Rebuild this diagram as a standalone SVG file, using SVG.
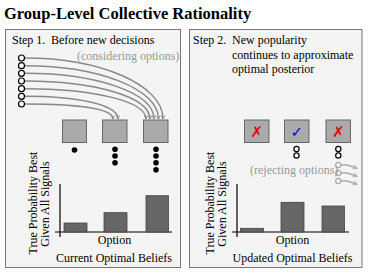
<svg xmlns="http://www.w3.org/2000/svg" width="374" height="280" viewBox="0 0 374 280" font-family="'Liberation Serif', 'Times New Roman', serif">
<style>
text{font-family:'Liberation Serif','Times New Roman',serif;font-size:12px;fill:#000}
.title{font-size:16.5px;font-weight:bold}
.gray{fill:#999}
.panel{fill:#f4f4f4;stroke:#777;stroke-width:1}
.box{fill:#aaa;stroke:#666;stroke-width:1}
.bar{fill:#666;stroke:#444;stroke-width:0.8}
.axis{stroke:#000;stroke-width:1.2;fill:none}
.sig{fill:#fff;stroke:#000;stroke-width:1.2}
.gsig{fill:#f4f4f4;stroke:#aaa;stroke-width:1.2}
.dot{fill:#000}
.curve{fill:none;stroke:#888;stroke-width:1.4;marker-end:url(#ah)}
.rej{fill:none;stroke:#aaa;stroke-width:1.4;marker-end:url(#ah2)}
.mark{font-family:'DejaVu Sans',sans-serif;font-size:15px;text-anchor:middle}
.mid{text-anchor:middle}
</style>
<defs>
<marker id="ah" viewBox="0 0 10 10" refX="9" refY="5" markerWidth="4.5" markerHeight="4.5" orient="auto" markerUnits="userSpaceOnUse">
<polyline points="1,1 9,5 1,9" fill="none" stroke="#888" stroke-width="2"/>
</marker>
<marker id="ah2" viewBox="0 0 10 10" refX="9" refY="5" markerWidth="5" markerHeight="5" orient="auto" markerUnits="userSpaceOnUse">
<polyline points="1,1 9,5 1,9" fill="none" stroke="#aaa" stroke-width="2"/>
</marker>
</defs>
<rect width="374" height="280" fill="#fff"/>
<text class="title" x="4" y="19">Group-Level Collective Rationality</text>

<g id="panel1">
<rect class="panel" x="5.5" y="29.5" width="175" height="238"/>
<text x="12" y="44">Step 1.</text>
<text x="51" y="44">Before new decisions</text>
<text class="gray" x="77" y="60">(considering options)</text>
</g>

<g id="connectors">
<path class="curve" d="M24.5,58 C101,58 163,85 163,119"/>
<path class="curve" d="M24.5,65.7 C99,65.7 158.5,89 158.5,119"/>
<path class="curve" d="M24.5,73.3 C97,73.3 154,93 154,119"/>
<path class="curve" d="M24.5,81 C95,81 150,97 150,119"/>
<path class="curve" d="M24.5,88.7 C93,88.7 146,101 146,119"/>
<path class="curve" d="M24.5,96.3 C75,96.3 118,104 118,119"/>
<path class="curve" d="M24.5,104 C73,104 113,108 113,119"/>
</g>

<g id="signals">
<circle class="sig" cx="21.5" cy="58" r="3"/>
<circle class="sig" cx="21.5" cy="65.7" r="3"/>
<circle class="sig" cx="21.5" cy="73.3" r="3"/>
<circle class="sig" cx="21.5" cy="81" r="3"/>
<circle class="sig" cx="21.5" cy="88.7" r="3"/>
<circle class="sig" cx="21.5" cy="96.3" r="3"/>
<circle class="sig" cx="21.5" cy="104" r="3"/>
</g>

<g id="opt1a"><rect class="box" x="62.5" y="120" width="24" height="22.5"/><circle class="dot" cx="74.5" cy="150" r="2.8"/></g>
<g id="opt1b"><rect class="box" x="102.5" y="120" width="24.5" height="22.5"/>
<circle class="dot" cx="115" cy="149.3" r="2.8"/><circle class="dot" cx="115" cy="156" r="2.8"/><circle class="dot" cx="115" cy="162.7" r="2.8"/></g>
<g id="opt1c"><rect class="box" x="143.5" y="120" width="24.5" height="22.5"/>
<circle class="dot" cx="156" cy="149.3" r="2.8"/><circle class="dot" cx="156" cy="156" r="2.8"/><circle class="dot" cx="156" cy="162.7" r="2.8"/><circle class="dot" cx="156" cy="169.8" r="2.8"/></g>

<g id="chart1">
<path class="axis" d="M60,184 V237 M55,232 H172"/>
<rect class="bar" x="64" y="223" width="23" height="9"/>
<rect class="bar" x="104" y="212.7" width="23" height="19.3"/>
<rect class="bar" x="146" y="195.7" width="22.5" height="36.3"/>
<text class="mid" transform="translate(36.5,203) rotate(-90)">True Probability Best</text>
<text class="mid" transform="translate(48.5,204) rotate(-90)">Given  All Signals</text>
<text class="mid" x="114.5" y="243.5">Option</text>
<text class="mid" x="114" y="261.5">Current Optimal Beliefs</text>
</g>

<g id="panel2">
<rect class="panel" x="189.5" y="29.5" width="172.5" height="238"/>
<text x="193" y="44">Step 2.</text>
<text x="232" y="44">New popularity</text>
<text x="232" y="58.5">continues to approximate</text>
<text x="232" y="73">optimal posterior</text>
</g>

<g id="opt2a"><rect class="box" x="244.5" y="120" width="24.5" height="22.5"/><text class="mark" x="256.8" y="137" style="fill:#e00000">✗</text></g>
<g id="opt2b"><rect class="box" x="284.5" y="120" width="24.5" height="22.5"/><text class="mark" x="296.8" y="137" style="fill:#0000e0">✓</text>
<circle class="sig" cx="296.5" cy="149" r="2.6"/><circle class="sig" cx="296.5" cy="155.5" r="2.6"/></g>
<g id="opt2c"><rect class="box" x="326" y="120" width="24.5" height="22.5"/><text class="mark" x="338.3" y="137" style="fill:#e00000">✗</text>
<circle class="sig" cx="338.3" cy="149" r="2.6"/><circle class="sig" cx="338.3" cy="155.5" r="2.6"/></g>

<g id="rejecting">
<path class="rej" d="M341,165 C347,164 351,166 357,168.5"/>
<path class="rej" d="M341,173 C347,172 351,174 357,176.5"/>
<path class="rej" d="M341,181 C347,180 351,182 357,184.5"/>
<circle class="gsig" cx="338.3" cy="165" r="2.6"/>
<circle class="gsig" cx="338.3" cy="173" r="2.6"/>
<circle class="gsig" cx="338.3" cy="181" r="2.6"/>
<text class="gray" x="250" y="174">(rejecting options)</text>
</g>

<g id="chart2">
<path class="axis" d="M237,184 V237 M232,232 H349"/>
<rect class="bar" x="240.5" y="228.3" width="23" height="3.7"/>
<rect class="bar" x="281" y="202.3" width="23" height="29.7"/>
<rect class="bar" x="322" y="206" width="22.5" height="26"/>
<text class="mid" transform="translate(213.5,203) rotate(-90)">True Probability Best</text>
<text class="mid" transform="translate(225.5,204) rotate(-90)">Given  All Signals</text>
<text class="mid" x="292.5" y="243.5">Option</text>
<text class="mid" x="292.5" y="261.5">Updated Optimal Beliefs</text>
</g>
</svg>
